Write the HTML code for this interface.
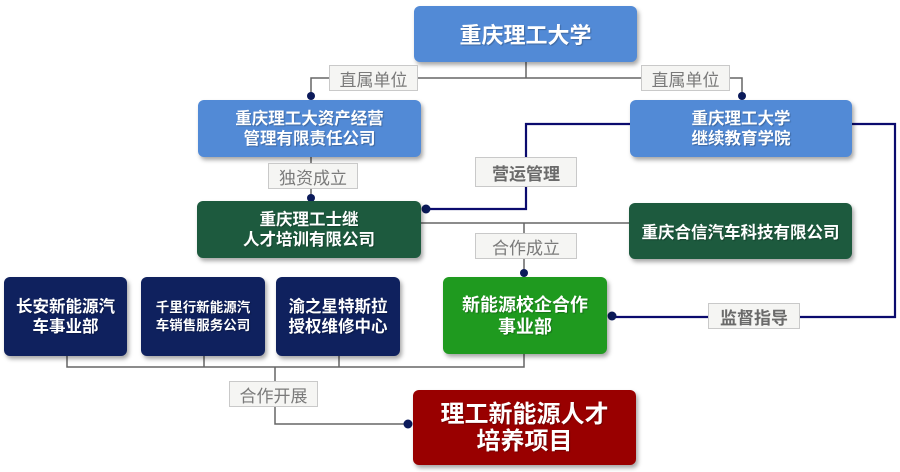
<!DOCTYPE html>
<html><head><meta charset="utf-8">
<style>
*{margin:0;padding:0;box-sizing:border-box}
body{width:900px;height:472px;background:#fff;position:relative;overflow:hidden;font-family:"Liberation Sans","Noto Sans CJK SC",sans-serif}
.b{position:absolute;border-radius:6px;color:#fff;font-weight:bold;display:flex;flex-direction:column;align-items:center;justify-content:center;text-align:center;box-shadow:2px 3px 4px rgba(0,0,0,0.35);text-shadow:1px 1px 1px rgba(0,0,0,0.25)}
.blue{background:#528ad6}
.dg{background:#1d5a3e}
.nv{background:#0f215e}
.gr{background:#1f9a1f}
.rd{background:#990000}
.l{position:absolute;background:#f5f5f3;border:1px solid #c9c9c9;color:#7a7a7a;font-size:17px;display:flex;align-items:center;justify-content:center}
svg{position:absolute;left:0;top:0}
</style></head><body>
<svg width="900" height="472">
<g stroke="#666" stroke-width="1.5" fill="none">
<path d="M526 62V78M311 96V78H742V96"/>
<path d="M311 157V198"/>
<path d="M421 223H629M524 223V273"/>
<path d="M67 356V367H524V354M204 356V367M339 356V367M275 367V424H408"/>
</g>
<g stroke="#0b0b6e" stroke-width="2.2" fill="none">
<path d="M426 209H526V124H630"/>
<path d="M852 124H895V317H612"/>
</g>
<g fill="#0b1a5a">
<circle cx="311" cy="96" r="4"/><circle cx="742" cy="96" r="4"/>
<circle cx="311" cy="198" r="4"/><circle cx="426" cy="209" r="4.5"/>
<circle cx="524" cy="273" r="4"/><circle cx="612" cy="316" r="4.5"/>
<circle cx="408" cy="424" r="4.5"/>
</g>
</svg>

<div class="b blue" style="left:414px;top:6px;width:223px;height:56px;font-size:22px">重庆理工大学</div>
<div class="b blue" style="left:198px;top:100px;width:223px;height:57px;font-size:16.5px;line-height:20px"><div>重庆理工大资产经营</div><div>管理有限责任公司</div></div>
<div class="b blue" style="left:630px;top:100px;width:222px;height:57px;font-size:16.5px;line-height:20px"><div>重庆理工大学</div><div>继续教育学院</div></div>
<div class="b dg" style="left:197px;top:201px;width:224px;height:57px;font-size:16.5px;line-height:20px"><div>重庆理工士继</div><div>人才培训有限公司</div></div>
<div class="b dg" style="left:629px;top:203px;width:223px;height:56px;font-size:16.5px">重庆合信汽车科技有限公司</div>
<div class="b nv" style="left:4px;top:277px;width:123px;height:79px;font-size:16.5px;line-height:20px"><div>长安新能源汽</div><div>车事业部</div></div>
<div class="b nv" style="left:141px;top:277px;width:124px;height:79px;font-size:13.5px;line-height:18px"><div>千里行新能源汽</div><div>车销售服务公司</div></div>
<div class="b nv" style="left:276px;top:277px;width:124px;height:79px;font-size:16.5px;line-height:20px"><div>渝之星特斯拉</div><div>授权维修中心</div></div>
<div class="b gr" style="left:443px;top:277px;width:164px;height:77px;font-size:18px;line-height:22px"><div>新能源校企合作</div><div>事业部</div></div>
<div class="b rd" style="left:413px;top:390px;width:223px;height:75px;font-size:24px;line-height:27px"><div>理工新能源人才</div><div>培养项目</div></div>

<div class="l" style="left:329px;top:65px;width:89px;height:26px">直属单位</div>
<div class="l" style="left:641px;top:65px;width:89px;height:26px">直属单位</div>
<div class="l" style="left:268px;top:163px;width:90px;height:26px">独资成立</div>
<div class="l" style="left:475px;top:157px;width:102px;height:30px;font-weight:bold;color:#6a6a6a">营运管理</div>
<div class="l" style="left:475px;top:233px;width:102px;height:26px">合作成立</div>
<div class="l" style="left:708px;top:303px;width:92px;height:26px;font-weight:bold;color:#6a6a6a">监督指导</div>
<div class="l" style="left:229px;top:381px;width:89px;height:26px">合作开展</div>
</body></html>
